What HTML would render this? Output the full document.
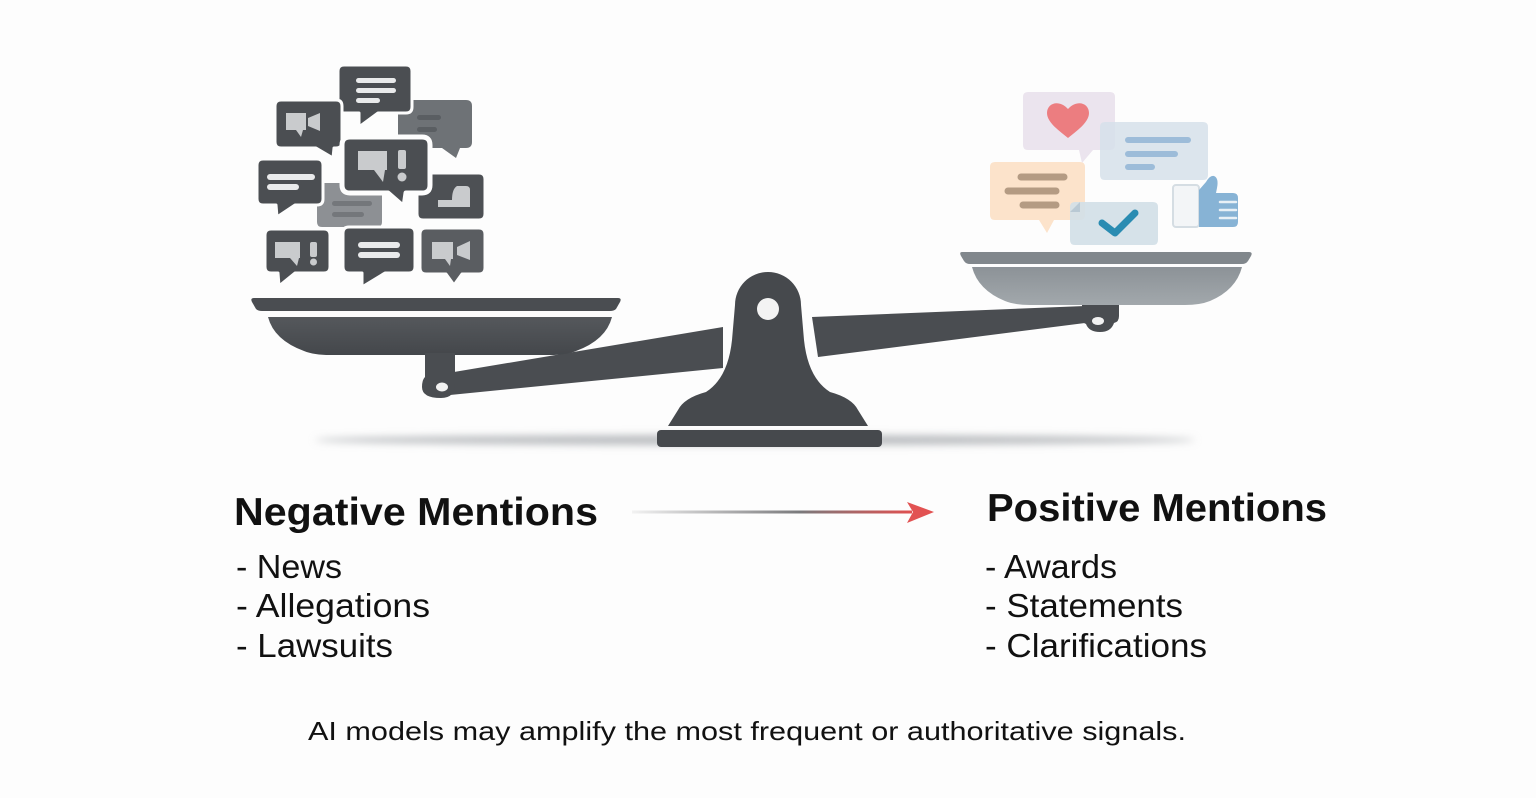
<!DOCTYPE html>
<html>
<head>
<meta charset="utf-8">
<style>
  html,body{margin:0;padding:0;background:#fdfdfd;}
  svg{display:block;}
  text{font-family:"Liberation Sans",sans-serif;fill:#111;}
</style>
</head>
<body>
<svg width="1536" height="798" viewBox="0 0 1536 798" xmlns="http://www.w3.org/2000/svg">
  <defs>
    <linearGradient id="arrowG" x1="632" y1="0" x2="912" y2="0" gradientUnits="userSpaceOnUse">
      <stop offset="0" stop-color="#f2f2f2"/>
      <stop offset="0.6" stop-color="#7a7a7c"/>
      <stop offset="1" stop-color="#e05050"/>
    </linearGradient>
    <linearGradient id="bowlL" x1="0" y1="0" x2="0" y2="1">
      <stop offset="0" stop-color="#55585c"/>
      <stop offset="1" stop-color="#44474b"/>
    </linearGradient>
    <linearGradient id="bowlR" x1="0" y1="0" x2="0" y2="1">
      <stop offset="0" stop-color="#8c9297"/>
      <stop offset="1" stop-color="#a2a8ac"/>
    </linearGradient>
    <filter id="blur" x="-10%" y="-200%" width="120%" height="500%">
      <feGaussianBlur stdDeviation="4"/>
    </filter>
  </defs>

  <rect width="1536" height="798" fill="#fdfdfd"/>

  <!-- ground shadow -->
  <ellipse cx="755" cy="440" rx="440" ry="5" fill="#b9bcbf" filter="url(#blur)"/>

  <!-- ===== LEFT BUBBLES ===== -->
  <!-- back: right top lighter -->
  <path d="M404,100 H466 Q472,100 472,106 V142 Q472,148 466,148 H460 L456,158 L442,148 H404 Q398,148 398,142 V106 Q398,100 404,100 Z" fill="#6e7276"/>
  <rect x="417" y="115" width="24" height="5" rx="2.5" fill="#5a5e62"/>
  <rect x="417" y="127" width="20" height="5" rx="2.5" fill="#5a5e62"/>
  <!-- back: gray translucent -->
  <path d="M322,183 H377 Q382,183 382,188 V222 Q382,227 377,227 H322 Q317,227 317,222 V188 Q317,183 322,183 Z" fill="#8d9094"/>
  <rect x="332" y="201" width="40" height="5" rx="2.5" fill="#74777b"/>
  <rect x="332" y="212" width="32" height="5" rx="2.5" fill="#74777b"/>

  <g stroke="#fdfdfd" stroke-width="3" stroke-linejoin="round">
    <!-- 1 top center -->
    <path d="M344,65 H406 Q412,65 412,71 V107 Q412,113 406,113 H378 L359,127 L359,113 H344 Q338,113 338,107 V71 Q338,65 344,65 Z" fill="#4b4e52"/>
    <!-- 2 left top -->
    <path d="M281,100 H336 Q342,100 342,106 V142 Q342,148 336,148 H334 L333,158 L316,148 H281 Q275,148 275,142 V106 Q275,100 281,100 Z" fill="#4b4e52"/>
    <!-- 5 left mid -->
    <path d="M263,159 H317 Q323,159 323,165 V199 Q323,205 317,205 H295 L277,217 L276,205 H263 Q257,205 257,199 V165 Q257,159 263,159 Z" fill="#4b4e52"/>
    <!-- 7 right mid -->
    <path d="M423,173 H479 Q485,173 485,179 V214 Q485,220 479,220 H423 Q417,220 417,214 V179 Q417,173 423,173 Z" fill="#4d5054"/>
    <!-- 8 bottom left -->
    <path d="M271,229 H324 Q330,229 330,235 V267 Q330,273 324,273 H295 L279,286 L278,273 H271 Q265,273 265,267 V235 Q265,229 271,229 Z" fill="#4b4e52"/>
    <!-- 9 bottom center -->
    <path d="M349,227 H409 Q415,227 415,233 V267 Q415,273 409,273 H385 L362,287 L362,273 H349 Q343,273 343,267 V233 Q343,227 349,227 Z" fill="#4b4e52"/>
    <!-- 10 bottom right -->
    <path d="M426,228 H479 Q485,228 485,234 V268 Q485,274 479,274 H462 L454,285 L446,274 H426 Q420,274 420,268 V234 Q420,228 426,228 Z" fill="#5a5d61"/>
  </g>
  <!-- 4 center (white outline thicker) -->
  <path d="M350,137 H422 Q430,137 430,145 V185 Q430,193 422,193 H406 L404,207 L388,193 H350 Q342,193 342,185 V145 Q342,137 350,137 Z" fill="#4b4e52" stroke="#fdfdfd" stroke-width="5" stroke-linejoin="round"/>

  <!-- icons / lines in left bubbles -->
  <g fill="#e9eaeb">
    <rect x="356" y="78" width="40" height="5" rx="2.5"/>
    <rect x="356" y="88" width="40" height="5" rx="2.5"/>
    <rect x="356" y="98" width="24" height="5" rx="2.5"/>
    <rect x="267" y="174" width="48" height="6" rx="3"/>
    <rect x="267" y="184" width="32" height="6" rx="3"/>
    <rect x="358" y="242" width="42" height="6" rx="3"/>
    <rect x="358" y="252" width="42" height="6" rx="3"/>
  </g>
  <g fill="#c9cbcd">
    <!-- bubble 2 icon -->
    <path d="M286,113 H306 V130 H303 L301,137 L296,130 H286 Z"/>
    <path d="M308,118 L320,113 V131 L308,126 Z"/>
    <!-- bubble 4 icon -->
    <path d="M358,151 H387 V170 H385 L383,182 L374,170 H358 Z"/>
    <rect x="398" y="150" width="8" height="19" rx="2"/>
    <circle cx="402" cy="177" r="4.5"/>
    <!-- bubble 7 icon -->
    <path d="M438,200 H452 Q452,189 457,186 H466 Q470,186 470,190 V207 H438 Z"/>
    <!-- bubble 8 icon -->
    <path d="M275,242 H300 V258 H299 L297,266 L290,258 H275 Z"/>
    <rect x="310" y="242" width="7" height="15" rx="2"/>
    <circle cx="313.5" cy="262" r="3.5"/>
    <!-- bubble 10 icon -->
    <path d="M432,242 H453 V259 H451 L450,266 L445,259 H432 Z"/>
    <path d="M457,247 L470,241 V260 L457,255 Z"/>
  </g>

  <!-- ===== RIGHT BUBBLES ===== -->
  <!-- pink heart -->
  <path d="M1028,92 H1110 Q1115,92 1115,97 V145 Q1115,150 1110,150 H1093 L1082,163 L1079,150 H1028 Q1023,150 1023,145 V97 Q1023,92 1028,92 Z" fill="#ebe4ee"/>
  <path d="M1068,138 C1058,130 1047,122 1047,113 C1047,103 1059,99 1068,109 C1077,99 1089,103 1089,113 C1089,122 1078,130 1068,138 Z" fill="#ec7d80"/>
  <!-- blue lines bubble -->
  <path d="M1105,122 H1203 Q1208,122 1208,127 V175 Q1208,180 1203,180 H1105 Q1100,180 1100,175 V127 Q1100,122 1105,122 Z" fill="#d6e1ea" fill-opacity="0.85"/>
  <g stroke="#9dbcd9" stroke-width="6" stroke-linecap="round">
    <line x1="1128" y1="140" x2="1188" y2="140"/>
    <line x1="1128" y1="154" x2="1175" y2="154"/>
    <line x1="1128" y1="167" x2="1152" y2="167"/>
  </g>
  <!-- orange -->
  <path d="M995,162 H1080 Q1085,162 1085,167 V215 Q1085,220 1080,220 H1054 L1047,233 L1039,220 H995 Q990,220 990,215 V167 Q990,162 995,162 Z" fill="#fce3cb"/>
  <g stroke="#b49b83" stroke-width="7" stroke-linecap="round">
    <line x1="1021" y1="177" x2="1064" y2="177"/>
    <line x1="1008" y1="191" x2="1056" y2="191"/>
    <line x1="1023" y1="205" x2="1056" y2="205"/>
  </g>
  <!-- thumbs up -->
  <rect x="1173" y="185" width="26" height="42" rx="3" fill="#f3f5f7" stroke="#d5dde3" stroke-width="2"/>
  <path d="M1199,190 L1206,182 Q1210,175 1214,176 Q1219,178 1217,188 L1216,193 H1233 Q1238,193 1238,198 V222 Q1238,227 1233,227 H1199 Z" fill="#87b3d5"/>
  <g stroke="#e8f0f6" stroke-width="2.5" stroke-linecap="round">
    <line x1="1220" y1="202" x2="1236" y2="202"/>
    <line x1="1220" y1="210" x2="1236" y2="210"/>
    <line x1="1220" y1="218" x2="1236" y2="218"/>
  </g>
  <!-- check bubble -->
  <path d="M1075,202 H1153 Q1158,202 1158,207 V240 Q1158,245 1153,245 H1075 Q1070,245 1070,240 V207 Q1070,202 1075,202 Z" fill="#d2dfe7" fill-opacity="0.92"/>
  <path d="M1070,212 L1080,202 V212 Z" fill="#b9c9d4"/>
  <path d="M1102,223 L1115,233 L1135,213" fill="none" stroke="#2a8cb2" stroke-width="7" stroke-linecap="round" stroke-linejoin="round"/>

  <!-- ===== SCALE ===== -->
  <!-- left beam -->
  <path d="M448,373 L723,327 L723,368 L450,395 Z" fill="#4a4d51"/>
  <!-- right beam -->
  <path d="M812,317 L1085,306 L1085,323 L818,357 Z" fill="#4a4d51"/>
  <!-- right hanger -->
  <path d="M1082,305 H1119 V316 Q1119,322 1114,323 Q1111,332 1100,332 Q1089,332 1086,324 L1082,322 Z" fill="#4a4d51"/>
  <ellipse cx="1098" cy="321" rx="6" ry="4" fill="#f2f2f2"/>

  <!-- left pan -->
  <path d="M254,298 H618 Q622,298 620,302 L616,309 Q614,311 610,311 H262 Q258,311 256,309 L252,302 Q250,298 254,298 Z" fill="#4a4d51"/>
  <path d="M268,317 H612 Q606,340 576,351 Q566,355 550,355 H330 Q314,355 304,351 Q274,340 268,317 Z" fill="url(#bowlL)"/>
  <!-- left hanger -->
  <path d="M425,353 H455 V384 Q455,398 441,398 Q422,398 422,387 Q422,380 425,377 Z" fill="#4a4d51"/>
  <ellipse cx="442" cy="387" rx="6" ry="4.5" fill="#f2f2f2"/>

  <!-- right pan -->
  <path d="M962,252 H1249 Q1253,252 1251,256 L1248,261 Q1246,264 1242,264 H970 Q966,264 964,261 L961,256 Q959,252 962,252 Z" fill="#81878c"/>
  <path d="M972,267 H1242 Q1236,290 1210,301 Q1200,305 1185,305 H1030 Q1015,305 1005,301 Q978,290 972,267 Z" fill="url(#bowlR)"/>

  <!-- fulcrum -->
  <path d="M735,305 A33,33 0 0 1 801,305 L804,340 Q808,378 830,392 Q852,398 858,410 L868,426 H668 L678,410 Q684,398 706,392 Q728,378 732,340 Z" fill="#46494d"/>
  <circle cx="768" cy="309" r="11" fill="#f3f3f3"/>
  <rect x="657" y="430" width="225" height="17" rx="4" fill="#46494d"/>

  <!-- ===== ARROW ===== -->
  <line x1="632" y1="512" x2="912" y2="512" stroke="url(#arrowG)" stroke-width="3"/>
  <path d="M907,502 L934,512 L907,523 L913,512 Z" fill="#e25252"/>

  <!-- ===== TEXT ===== -->
  <text x="234" y="525" font-size="39" font-weight="bold" textLength="364" lengthAdjust="spacingAndGlyphs">Negative Mentions</text>
  <text x="236" y="578" font-size="33" textLength="106" lengthAdjust="spacingAndGlyphs">- News</text>
  <text x="236" y="617" font-size="33" textLength="194" lengthAdjust="spacingAndGlyphs">- Allegations</text>
  <text x="236" y="657" font-size="33" textLength="157" lengthAdjust="spacingAndGlyphs">- Lawsuits</text>

  <text x="987" y="521" font-size="39" font-weight="bold" textLength="340" lengthAdjust="spacingAndGlyphs">Positive Mentions</text>
  <text x="985" y="578" font-size="33" textLength="132" lengthAdjust="spacingAndGlyphs">- Awards</text>
  <text x="985" y="617" font-size="33" textLength="198" lengthAdjust="spacingAndGlyphs">- Statements</text>
  <text x="985" y="657" font-size="33" textLength="222" lengthAdjust="spacingAndGlyphs">- Clarifications</text>

  <text x="308" y="740" font-size="26" textLength="878" lengthAdjust="spacingAndGlyphs">AI models may amplify the most frequent or authoritative signals.</text>
</svg>
</body>
</html>
